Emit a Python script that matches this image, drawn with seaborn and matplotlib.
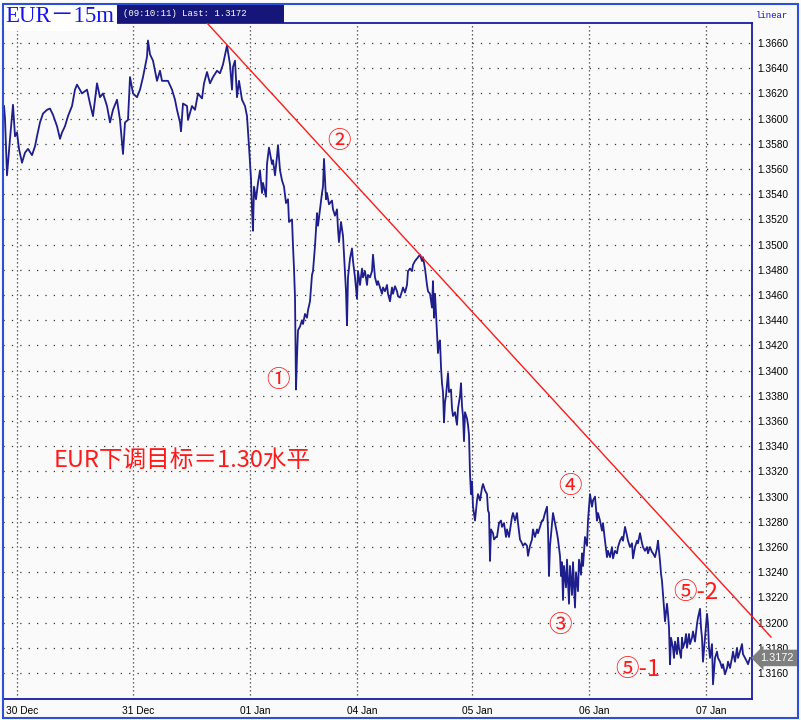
import numpy as np
import pandas as pd
import seaborn as sns
import matplotlib
matplotlib.use('Agg')
import matplotlib.pyplot as plt
from matplotlib.patches import Rectangle
from matplotlib.transforms import ScaledTranslation

##
# Data (position = screen column of the original 15m chart)
##
bar_pos = [
    4, 5, 7, 10, 13, 15, 17, 19, 22, 25,
    28, 32, 35, 37, 40, 43, 47, 50, 53, 57,
    60, 62, 65, 68, 72, 75, 77, 82, 87, 90,
    93, 97, 100, 103, 107, 110, 113, 117, 120, 123,
    125, 128, 130, 133, 137, 140, 143, 147, 148, 150,
    153, 157, 160, 162, 168, 172, 175, 177, 180, 181,
    183, 187, 188, 192, 195, 198, 202, 204, 207, 210,
    213, 217, 220, 223, 227, 230, 232, 233, 235, 237,
    239, 242, 245, 247, 249,
    251, 252, 253, 254, 256, 258, 260, 262, 263, 266,
    267, 269, 272, 273, 275, 277, 278, 280, 282, 284,
    286, 288, 289, 292, 293, 294, 295, 296, 297, 298,
    300, 302, 303, 305, 307, 308, 310, 312, 313, 315,
    317, 318, 320, 322, 323, 324, 326, 327, 329, 332,
    333, 335, 337, 338, 339, 341, 343, 344, 346, 347,
    348, 350, 352, 353, 355, 357, 358, 360, 362, 363,
    365, 367, 368, 370, 372, 373, 375, 377, 378, 380,
    382, 383, 385, 387, 388, 390, 392, 393, 395, 397,
    398, 400, 402, 403, 405, 407, 408, 410, 412, 413,
    415, 417, 418, 420, 422, 423, 425, 427, 428, 430,
    432,
    433, 434, 435, 437, 438, 439, 440, 441, 442, 443,
    444, 445, 446, 448, 449, 451, 452, 453, 455, 457,
    458, 460, 461, 462, 463, 464, 465, 467, 468, 469,
    470, 471, 472, 473, 475, 477, 478, 480, 482, 483,
    485, 487, 488, 489, 490, 491, 493, 494, 496, 497,
    499, 501, 502, 504, 506, 507, 509, 512, 513, 515,
    517, 518, 520, 522, 523, 525, 527, 528, 530, 532,
    533, 535, 537, 538, 540, 542, 543, 545, 547, 548,
    549, 550, 552, 553, 555, 557, 558, 560, 561,
    562, 563, 564, 566, 567, 569, 570, 572, 573, 575,
    576, 578, 579, 581, 582, 583, 585, 587, 588, 590,
    592, 593, 595, 597, 598,
    600, 602, 603, 605, 607, 608, 610, 612, 613, 615,
    617, 618, 620, 622, 623, 625, 627, 628, 630, 632,
    633, 635, 637, 638, 640, 642, 643, 645, 647, 648,
    650, 652, 653, 655, 657, 658, 660, 661, 662, 663,
    664, 665, 667, 668, 669, 670, 671, 673, 674, 675,
    677, 678, 679, 681, 682, 683, 685, 686, 687, 689,
    690, 692, 693, 695, 697, 698, 700, 701, 702, 703,
    705, 707, 708, 709, 710, 712, 713, 715, 717, 718,
    720, 722, 723, 725, 727, 728, 730, 732, 733, 735,
    737, 738, 740, 742, 743, 745, 747, 748, 750,
]
price = [
    1.3610, 1.3600, 1.3555, 1.3584, 1.3611, 1.3586, 1.3589, 1.3576, 1.3565, 1.3573,
    1.3576, 1.3571, 1.3578, 1.3586, 1.3597, 1.3604, 1.3607, 1.3608, 1.3603, 1.3594,
    1.3584, 1.3589, 1.3594, 1.3602, 1.3610, 1.3623, 1.3627, 1.3620, 1.3623, 1.3612,
    1.3602, 1.3628, 1.3617, 1.3620, 1.3610, 1.3597, 1.3607, 1.3615, 1.3599, 1.3572,
    1.3597, 1.3599, 1.3633, 1.3620, 1.3617, 1.3623, 1.3633, 1.3649, 1.3662, 1.3651,
    1.3646, 1.3630, 1.3638, 1.3630, 1.3630, 1.3623, 1.3615, 1.3607, 1.3597, 1.3590,
    1.3612, 1.3610, 1.3599, 1.3610, 1.3607, 1.3620, 1.3616, 1.3628, 1.3637, 1.3628,
    1.3633, 1.3638, 1.3636, 1.3643, 1.3658, 1.3643, 1.3623, 1.3641, 1.3646, 1.3617,
    1.3630, 1.3615, 1.3610, 1.3602, 1.3578,
    1.3552, 1.3528, 1.3511, 1.3546, 1.3536, 1.3549, 1.3559, 1.3541, 1.3549, 1.3538,
    1.3564, 1.3577, 1.3564, 1.3567, 1.3555, 1.3570, 1.3579, 1.3559, 1.3551, 1.3546,
    1.3533, 1.3536, 1.3518, 1.3520, 1.3499, 1.3481, 1.3458, 1.3385, 1.3411, 1.3432,
    1.3435, 1.3440, 1.3437, 1.3445, 1.3442, 1.3448, 1.3455, 1.3476, 1.3479, 1.3499,
    1.3525, 1.3515, 1.3528, 1.3541, 1.3546, 1.3568, 1.3536, 1.3541, 1.3532, 1.3535,
    1.3528, 1.3523, 1.3528, 1.3512, 1.3502, 1.3518, 1.3507, 1.3492, 1.3463, 1.3436,
    1.3474, 1.3489, 1.3497, 1.3487, 1.3474, 1.3457, 1.3479, 1.3468, 1.3481, 1.3474,
    1.3479, 1.3468, 1.3476, 1.3474, 1.3479, 1.3492, 1.3474, 1.3468, 1.3471, 1.3466,
    1.3461, 1.3466, 1.3463, 1.3468, 1.3461, 1.3455, 1.3466, 1.3461, 1.3467, 1.3463,
    1.3459, 1.3458, 1.3463, 1.3466, 1.3462, 1.3468, 1.3479, 1.3481, 1.3479, 1.3484,
    1.3487, 1.3489, 1.3490, 1.3492, 1.3487, 1.3490, 1.3481, 1.3468, 1.3463, 1.3461,
    1.3450,
    1.3471, 1.3442, 1.3461, 1.3429, 1.3414, 1.3422, 1.3424, 1.3403, 1.3390, 1.3383,
    1.3359, 1.3375, 1.3380, 1.3398, 1.3383, 1.3385, 1.3370, 1.3364, 1.3367, 1.3357,
    1.3370, 1.3380, 1.3390, 1.3372, 1.3364, 1.3344, 1.3367, 1.3362, 1.3357, 1.3349,
    1.3318, 1.3302, 1.3312, 1.3292, 1.3281, 1.3297, 1.3302, 1.3297, 1.3307, 1.3310,
    1.3305, 1.3302, 1.3289, 1.3287, 1.3249, 1.3274, 1.3271, 1.3266, 1.3268, 1.3268,
    1.3279, 1.3281, 1.3276, 1.3279, 1.3268, 1.3274, 1.3268, 1.3284, 1.3287, 1.3281,
    1.3287, 1.3279, 1.3266, 1.3263, 1.3261, 1.3263, 1.3261, 1.3253, 1.3261, 1.3266,
    1.3274, 1.3268, 1.3274, 1.3271, 1.3276, 1.3281, 1.3281, 1.3287, 1.3292, 1.3274,
    1.3237, 1.3261, 1.3279, 1.3287, 1.3279, 1.3271, 1.3266, 1.3253, 1.3237,
    1.3248, 1.3218, 1.3245, 1.3228, 1.3250, 1.3215, 1.3245, 1.3222, 1.3248, 1.3212,
    1.3240, 1.3225, 1.3250, 1.3238, 1.3255, 1.3245, 1.3268, 1.3261, 1.3281, 1.3302,
    1.3292, 1.3297, 1.3300, 1.3281, 1.3287,
    1.3281, 1.3273, 1.3279, 1.3265, 1.3252, 1.3257, 1.3252, 1.3260, 1.3251, 1.3257,
    1.3255, 1.3260, 1.3265, 1.3268, 1.3265, 1.3276, 1.3269, 1.3265, 1.3260, 1.3263,
    1.3251, 1.3260, 1.3265, 1.3263, 1.3271, 1.3263, 1.3260, 1.3257, 1.3260, 1.3255,
    1.3260, 1.3256, 1.3255, 1.3252, 1.3259, 1.3265, 1.3249, 1.3239, 1.3233, 1.3223,
    1.3212, 1.3201, 1.3215, 1.3207, 1.3196, 1.3167, 1.3188, 1.3180, 1.3172, 1.3185,
    1.3175, 1.3188, 1.3180, 1.3172, 1.3188, 1.3180, 1.3185, 1.3191, 1.3180, 1.3191,
    1.3183, 1.3188, 1.3193, 1.3185, 1.3199, 1.3204, 1.3211, 1.3196, 1.3188, 1.3169,
    1.3188, 1.3207, 1.3199, 1.3180, 1.3172, 1.3183, 1.3151, 1.3172, 1.3177, 1.3172,
    1.3169, 1.3164, 1.3167, 1.3159, 1.3164, 1.3169, 1.3164, 1.3172, 1.3177, 1.3169,
    1.3180, 1.3172, 1.3177, 1.3183, 1.3175, 1.3172, 1.3169, 1.3167, 1.3172,
]

day_ticks = [17, 133, 250, 357, 472, 589, 706]
day_labels = ['30 Dec', '31 Dec', '01 Jan', '04 Jan', '05 Jan', '06 Jan', '07 Jan']
price_ticks = np.round(np.arange(1.3160, 1.36601, 0.002), 4)

# red resistance line (start / end)
trend_x = [207, 771]
trend_p = [1.36759, 1.31886]

last_price = 1.3172
last_time = '09:10:11'

NAVY = '#1e1e8c'
RED = '#ff1a1a'
FRAME = '#1a1aa6'
CJK = ['Noto Sans CJK SC', 'DejaVu Sans']
TICKFONT = ['Liberation Sans', 'DejaVu Sans']

W, H = 801, 720


def px(x, y):
    # screen pixel -> figure fraction
    return x / W, 1 - y / H


df = pd.DataFrame({'bar': bar_pos, 'price': price})

fig = plt.figure(figsize=(W / 100, H / 100), dpi=100)
fig.patch.set_facecolor('#fafafa')
ax = fig.add_axes([3 / W, 1 - 699 / H, 749 / W, 676 / H])
ax.set_facecolor('#fafafa')

sns.lineplot(data=df, x='bar', y='price', estimator=None, sort=False,
             color=NAVY, linewidth=1.3, ax=ax, zorder=2)
ax.plot(trend_x, trend_p, color=RED, linewidth=1.0, clip_on=False, zorder=3)

ax.set_xlim(3, 752)
ax.set_ylim(1.31394, 1.36759)
ax.set_xlabel('')
ax.set_ylabel('')

ax.set_xticks(day_ticks)
ax.set_xticklabels(day_labels)
ax.set_yticks(price_ticks)
ax.set_yticklabels(['%.4f' % v for v in price_ticks])
ax.yaxis.tick_right()
ax.tick_params(length=0)
ax.tick_params(axis='y', pad=4)
ax.tick_params(axis='x', pad=5)
for lab in ax.get_xticklabels() + ax.get_yticklabels():
    lab.set_fontfamily(TICKFONT)
    lab.set_fontsize(7.3)
    lab.set_color('black')
shift = ScaledTranslation(4 / 72, 0, fig.dpi_scale_trans)
for lab in ax.get_xticklabels():
    lab.set_transform(lab.get_transform() + shift)

ax.grid(axis='y', color='#333333', linestyle=(0, (1, 5.7)), linewidth=0.9)
ax.grid(axis='x', color='#333333', linestyle=(0, (1, 2.2)), linewidth=0.9)
ax.set_axisbelow(True)

for s in ax.spines.values():
    s.set_color(FRAME)
    s.set_linewidth(1.3)

# last price marker on the right axis
tag = ax.text(1.0, last_price, '%.4f' % last_price, transform=ax.get_yaxis_transform(),
              ha='left', va='center', color='white', fontsize=7.8, family=TICKFONT,
              bbox=dict(boxstyle='larrow,pad=0.3', fc='#7f7f7f', ec='none'),
              clip_on=False, zorder=5)
tag.set_transform(tag.get_transform() + ScaledTranslation(6 / 72, 0, fig.dpi_scale_trans))

# wave labels
ax.text(278, 1.33925, '①', color=RED, fontsize=17, family=CJK, ha='center', va='center')
ax.text(339, 1.35822, '②', color=RED, fontsize=17, family=CJK, ha='center', va='center')
ax.text(560, 1.31981, '③', color=RED, fontsize=17, family=CJK, ha='center', va='center')
ax.text(570, 1.33084, '④', color=RED, fontsize=17, family=CJK, ha='center', va='center')
ax.text(673, 1.32243, '⑤-2', color=RED, fontsize=17, family=CJK, ha='left', va='center')
ax.text(615, 1.31632, '⑤-1', color=RED, fontsize=17, family=CJK, ha='left', va='center')
ax.text(54, 1.33291, 'EUR下调目标＝1.30水平', color=RED, fontsize=17, family=CJK,
        ha='left', va='center')

# header strip
x0, y0 = px(3, 31)
x1, y1 = px(117, 4)
fig.patches.append(Rectangle((x0, y0), x1 - x0, y1 - y0, transform=fig.transFigure,
                             fc='white', ec='none', zorder=4))
x0, y0 = px(117, 23)
x1, y1 = px(284, 4)
fig.patches.append(Rectangle((x0, y0), x1 - x0, y1 - y0, transform=fig.transFigure,
                             fc='#16167a', ec='none', zorder=4))
fig.text(*px(5, 17), 'EUR－15m', color='#1414ee', fontsize=16.5,
         family=['Liberation Serif', 'Noto Sans CJK SC'], ha='left', va='center', zorder=6)
fig.text(*px(123, 14), '(%s) Last: %.4f' % (last_time, last_price), color='white',
         fontsize=6.5, family='Liberation Mono', ha='left', va='center', zorder=6)
fig.text(*px(756, 15), 'linear', color='#1414cc', fontsize=6.5,
         family='Liberation Mono', ha='left', va='center', zorder=6)

# outer frame
x0, y0 = px(3, 718)
x1, y1 = px(798, 4)
fig.patches.append(Rectangle((x0, y0), x1 - x0, y1 - y0, transform=fig.transFigure,
                             fill=False, ec='#2e4fd8', lw=1.5, zorder=7))

fig.savefig('out.png', dpi=100, facecolor=fig.get_facecolor())
